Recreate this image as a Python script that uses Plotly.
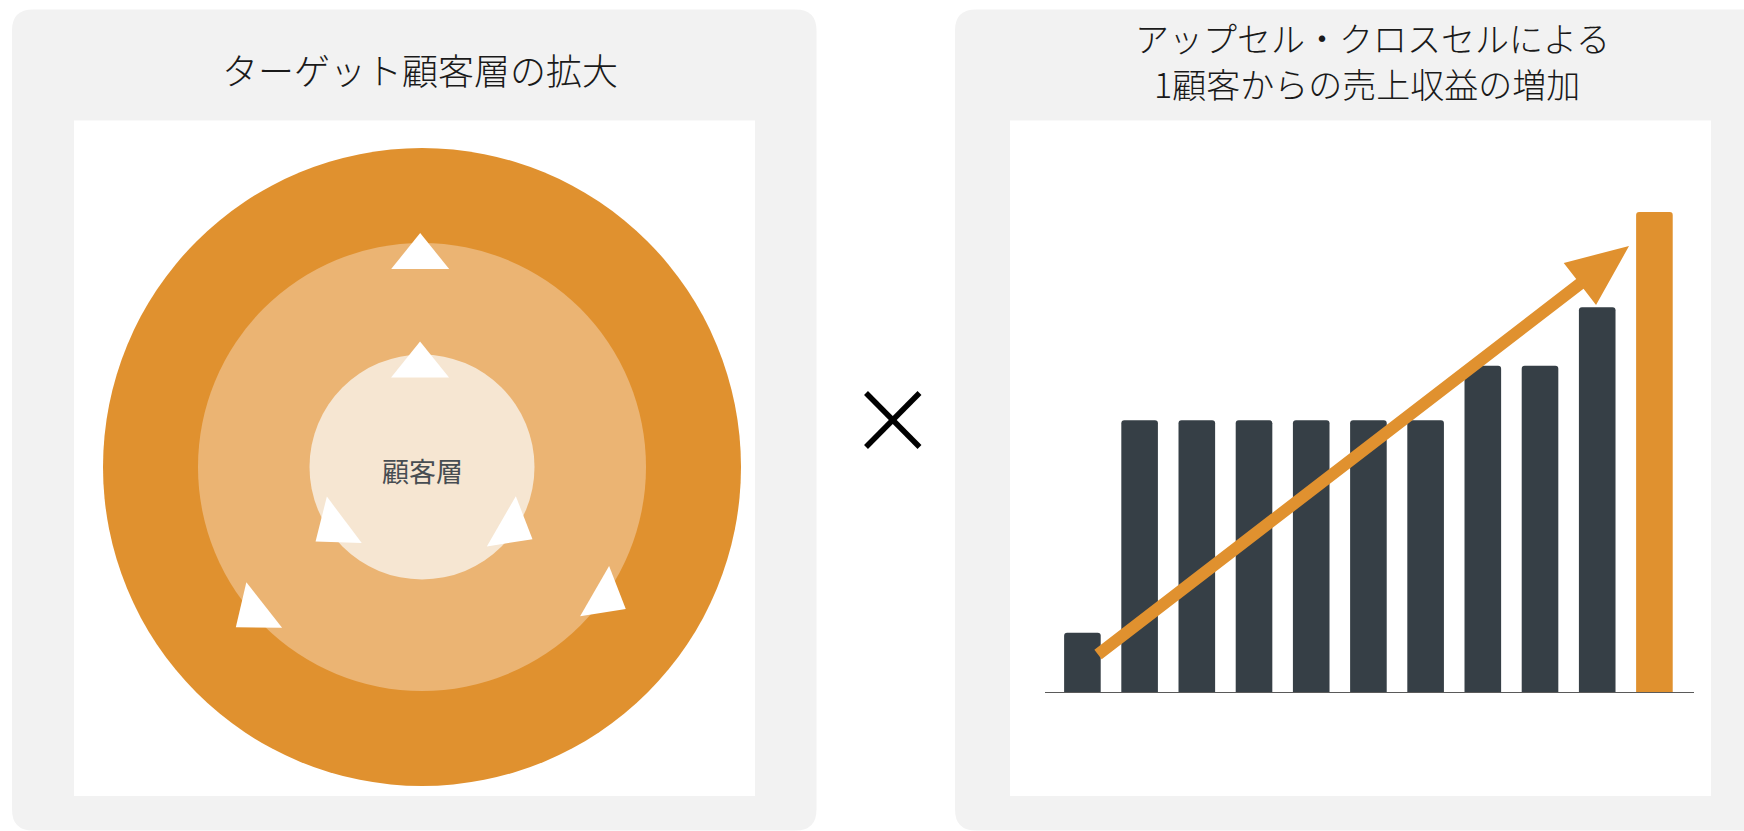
import math
import plotly.graph_objects as go

W, H = 1744, 831

# ---------------- data ----------------
left_title = "ターゲット顧客層の拡大"
right_title_lines = ["アップセル・クロスセルによる", "1顧客からの売上収益の増加"]
center_label = "顧客層"

# concentric customer layers (outer -> inner), radius in drawing units
ring_names = ["拡大後", "中間層", "顧客層"]
ring_radius = [319, 224, 112.5]

# white expansion arrows: distance from centre, angle of position, pointing angle
arrow_ring_r = [210, 101.6, 105.9, 108.1, 221.6, 224.5]
arrow_pos_deg = [90.5, 91.1, 214.5, 326.1, 221.0, 324.6]
arrow_dir_deg = [90, 90, 217, 330, 218, 330]

# revenue per customer bars
period = list(range(1, 12))
revenue = [12.5, 56.7, 56.7, 56.7, 56.7, 56.7, 56.7, 68.0, 68.0, 80.2, 100.0]
highlight = [False] * 10 + [True]

# trend arrow (start / tip) in bar-chart data units
trend_x = [1.273, 10.556]
trend_y = [8.0, 92.9]

# ---------------- styles ----------------
ORANGE = "#E0912F"
MID = "#EBB473"
INNER = "#F6E6D2"
DARK = "#363F46"
PANEL = "#F2F2F2"
FONT = "Noto Sans CJK JP"

def px(x):
    return x / W

def py(y):
    return 1 - y / H

def rounded_rect(x0, y0, x1, y1, r):
    pts = [
        ("M", (x0 + r, y0)), ("L", (x1 - r, y0)), ("Q", (x1, y0), (x1, y0 + r)),
        ("L", (x1, y1 - r)), ("Q", (x1, y1), (x1 - r, y1)),
        ("L", (x0 + r, y1)), ("Q", (x0, y1), (x0, y1 - r)),
        ("L", (x0, y0 + r)), ("Q", (x0, y0), (x0 + r, y0)),
    ]
    s = ""
    for p in pts:
        cmd = p[0]
        coords = " ".join(f"{px(a):.6f},{py(b):.6f}" for a, b in p[1:])
        s += f"{cmd} {coords} "
    return s + "Z"

shapes = []
# panels
shapes.append(dict(type="path", xref="paper", yref="paper", layer="below",
                   path=rounded_rect(12, 9.5, 816.5, 830.5, 21),
                   fillcolor=PANEL, line=dict(width=0)))
shapes.append(dict(type="path", xref="paper", yref="paper", layer="below",
                   path=rounded_rect(955, 9.5, 1790, 830.5, 21),
                   fillcolor=PANEL, line=dict(width=0)))
shapes.append(dict(type="rect", xref="paper", yref="paper", layer="below",
                   x0=px(74), x1=px(755), y0=py(796), y1=py(120.5),
                   fillcolor="white", line=dict(width=0)))
shapes.append(dict(type="rect", xref="paper", yref="paper", layer="below",
                   x0=px(1010), x1=px(1711), y0=py(796), y1=py(120.5),
                   fillcolor="white", line=dict(width=0)))

# rings
for r, c in zip(ring_radius, [ORANGE, MID, INNER]):
    shapes.append(dict(type="circle", xref="x", yref="y", x0=-r, x1=r, y0=-r, y1=r,
                       fillcolor=c, line=dict(width=0), layer="above"))

# white triangles
TRI_H, TRI_HALF = 36, 29
for r, pa, da in zip(arrow_ring_r, arrow_pos_deg, arrow_dir_deg):
    cx, cy = r * math.cos(math.radians(pa)), r * math.sin(math.radians(pa))
    ux, uy = math.cos(math.radians(da)), math.sin(math.radians(da))
    nx, ny = -uy, ux
    apex = (cx + ux * TRI_H * 2 / 3, cy + uy * TRI_H * 2 / 3)
    bx, by = cx - ux * TRI_H / 3, cy - uy * TRI_H / 3
    b1 = (bx + nx * TRI_HALF, by + ny * TRI_HALF)
    b2 = (bx - nx * TRI_HALF, by - ny * TRI_HALF)
    path = f"M {apex[0]:.2f},{apex[1]:.2f} L {b1[0]:.2f},{b1[1]:.2f} L {b2[0]:.2f},{b2[1]:.2f} Z"
    shapes.append(dict(type="path", xref="x", yref="y", path=path,
                       fillcolor="white", line=dict(width=0), layer="above"))

# multiplication sign
shapes.append(dict(type="line", xref="paper", yref="paper", x0=px(866), y0=py(393),
                   x1=px(919.5), y1=py(447), line=dict(color="black", width=5.5)))
shapes.append(dict(type="line", xref="paper", yref="paper", x0=px(919.5), y0=py(393),
                   x1=px(866), y1=py(447), line=dict(color="black", width=5.5)))

# bar chart axes
dom_x2 = [1045 / W, 1694 / W]
rng_x2 = [0.346, 11.692]
dom_y2 = [1 - 693 / H, 1 - 121 / H]
rng_y2 = [0, 118.9]

def x2_to_px(v):
    return dom_x2[0] * W + (v - rng_x2[0]) / (rng_x2[1] - rng_x2[0]) * (dom_x2[1] - dom_x2[0]) * W

def y2_to_px(v):
    return H * (1 - dom_y2[0]) - (v - rng_y2[0]) / (rng_y2[1] - rng_y2[0]) * (dom_y2[1] - dom_y2[0]) * H

def px_to_x2(p):
    return rng_x2[0] + (p - dom_x2[0] * W) / ((dom_x2[1] - dom_x2[0]) * W) * (rng_x2[1] - rng_x2[0])

def px_to_y2(p):
    return rng_y2[0] + (H * (1 - dom_y2[0]) - p) / ((dom_y2[1] - dom_y2[0]) * H) * (rng_y2[1] - rng_y2[0])

# baseline
shapes.append(dict(type="line", xref="x2 domain", yref="y2", x0=0, x1=1, y0=0, y1=0,
                   line=dict(color="#5A5A5A", width=2), layer="above"))

# trend arrow polygon
Sx, Sy = x2_to_px(trend_x[0]), y2_to_px(trend_y[0])
Tx, Ty = x2_to_px(trend_x[1]), y2_to_px(trend_y[1])
L = math.hypot(Tx - Sx, Ty - Sy)
ux, uy = (Tx - Sx) / L, (Ty - Sy) / L
nx, ny = -uy, ux
SHAFT, HEAD_L, HEAD_HW = 12, 62, 26.5
Bx, By = Tx - ux * HEAD_L, Ty - uy * HEAD_L
poly = [
    (Sx + nx * SHAFT / 2, Sy + ny * SHAFT / 2),
    (Bx + nx * SHAFT / 2, By + ny * SHAFT / 2),
    (Bx + nx * HEAD_HW, By + ny * HEAD_HW),
    (Tx, Ty),
    (Bx - nx * HEAD_HW, By - ny * HEAD_HW),
    (Bx - nx * SHAFT / 2, By - ny * SHAFT / 2),
    (Sx - nx * SHAFT / 2, Sy - ny * SHAFT / 2),
]
path = "M " + " L ".join(f"{px_to_x2(a):.4f},{px_to_y2(b):.4f}" for a, b in poly) + " Z"
shapes.append(dict(type="path", xref="x2", yref="y2", path=path,
                   fillcolor=ORANGE, line=dict(width=0), layer="above"))

fig = go.Figure()
fig.add_trace(go.Bar(
    x=period, y=revenue, xaxis="x2", yaxis="y2",
    marker=dict(color=[ORANGE if h else DARK for h in highlight], line=dict(width=0)),
    width=0.64, hoverinfo="skip", showlegend=False,
))
# invisible anchor for left drawing axes
fig.add_trace(go.Scatter(x=[0], y=[0], mode="markers", marker=dict(opacity=0),
                         xaxis="x", yaxis="y", hoverinfo="skip", showlegend=False))

title_font = dict(family=FONT, size=34, color="#1A1A1A", weight=300)
annotations = [
    dict(text=left_title, xref="paper", yref="paper", x=px(420), y=py(69),
         xanchor="center", yanchor="middle", showarrow=False,
         font=dict(family=FONT, size=36, color="#1A1A1A", weight=300)),
    dict(text=right_title_lines[0], xref="paper", yref="paper", x=px(1372), y=py(37),
         xanchor="center", yanchor="middle", showarrow=False, font=title_font),
    dict(text=right_title_lines[1], xref="paper", yref="paper", x=px(1367), y=py(83),
         xanchor="center", yanchor="middle", showarrow=False, font=title_font),
    dict(text=center_label, xref="x", yref="y", x=0, y=-3,
         xanchor="center", yanchor="middle", showarrow=False,
         font=dict(family=FONT, size=27, color="#474D52")),
]

fig.update_layout(
    width=W, height=H, margin=dict(l=0, r=0, t=0, b=0),
    paper_bgcolor="white", plot_bgcolor="rgba(0,0,0,0)",
    showlegend=False, barcornerradius=3,
    xaxis=dict(domain=[74 / W, 755 / W], range=[-348, 333], visible=False, fixedrange=True),
    yaxis=dict(domain=[1 - 796 / H, 1 - 120.5 / H], range=[-329, 346.5], visible=False, fixedrange=True),
    xaxis2=dict(domain=dom_x2, range=rng_x2, visible=False, fixedrange=True, anchor="y2"),
    yaxis2=dict(domain=dom_y2, range=rng_y2, visible=False, fixedrange=True, anchor="x2"),
    shapes=shapes, annotations=annotations,
)

fig.write_html("out.html")
